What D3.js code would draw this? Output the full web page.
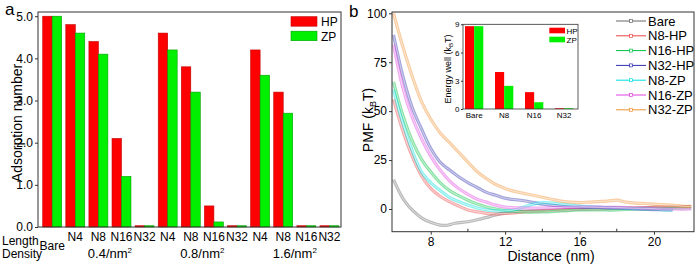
<!DOCTYPE html>
<html><head><meta charset="utf-8">
<script src="https://cdn.jsdelivr.net/npm/d3@7"></script>
<style>body{margin:0;background:#fff}svg{display:block;font-family:"Liberation Sans",Arial,sans-serif}</style>
</head><body><svg id="c" width="697" height="267"></svg>
<script>
// ---------- Panel a data ----------
const lengthLabels = ["Bare","N4","N8","N16","N32","N4","N8","N16","N32","N4","N8","N16","N32"];
const densityLabels = ["0.4/nm","0.8/nm","1.6/nm"];
const hpValues = [5.0,4.8,4.4,2.1,0.03,4.6,3.8,0.5,0.03,4.2,3.2,0.03,0.03];
const zpValues = [5.0,4.6,4.1,1.2,0.03,4.2,3.2,0.12,0.03,3.6,2.7,0.03,0.03];
const aTicks = [0,1,2,3,4,5];

// ---------- Panel b data ----------
const pmfSeries = ["Bare","N8-HP","N16-HP","N32-HP","N8-ZP","N16-ZP","N32-ZP"];
const pmfColors = ["#666666","#ee4444","#00c040","#3030b0","#00dede","#e040e0","#f09030"];
const bareD  = [6.0,6.3,6.6,7.0,7.5,8.0,8.5,8.9,9.3,10,10.5,11,11.5,12,12.5,13,14,15,16,17,18,19,20,21,22];
const bareV  = [15,9,4,-0.5,-4.5,-6.8,-8.2,-8.3,-7.3,-6.5,-5.5,-4.3,-3,-2,-1.5,-1.2,-0.8,-0.5,-0.2,0,0.2,0.5,0.8,1,1.2];
const n8hpD  = [6.0,6.5,7.0,7.5,8.0,8.5,9.0,9.5,10,10.5,11,11.5,12,12.5,13,14,15,16,17,18,19,20,21,22];
const n8hpV  = [56,40,27,17,10.5,6.5,3.8,1.5,-0.5,-1.5,-2.2,-2.5,-2.3,-2,-1.5,-1,-0.5,0,0,0.3,0.5,0.8,1,1.2];
const n16hpD = [6.0,6.5,7.0,7.5,8.0,8.5,9.0,9.5,10,10.5,11,11.5,12,13,14,15,16,17,18,19,20,21,22];
const n16hpV = [65,48,35,25.5,19,13.5,9.5,6.8,4.5,2.5,1,0,-0.8,-1.5,-1.5,-1,-0.5,-0.5,-0.5,0,0,0.3,0.5];
const n32hpD = [6.0,6.5,7.0,7.5,8.0,8.5,9.0,9.5,10,10.5,11,11.5,12,13,14,15,16,17,18,19,20,21];
const n32hpV = [89,68,52,41,31,24,20,16.5,13.5,11,8.5,7,5.5,4.2,2.5,1.5,1,0.8,0.5,0,-0.3,-0.5];
const n8zpD  = [6.0,6.5,7.0,7.5,8.0,8.5,9.0,9.5,10,10.5,11,11.5,12,12.5,13,13.5,14,14.5,15,16,17,18,19,20,20.5,21];
const n8zpV  = [61,44,30,19,13.5,9.5,6,3.8,2,0.5,-0.5,-1,-1,-0.5,1,2.5,3.3,3,2.5,1.5,0.8,0.5,0.2,0,-0.5,-0.5];
const n16zpD = [6.0,6.5,7.0,7.5,8.0,8.5,9.0,9.5,10,10.5,11,11.5,12,13,14,15,16,17,18,19,20,21,22];
const n16zpV = [84,62,47,36,27,20,14.5,10.5,7.5,5,3.5,2,1,0.5,0.5,0.8,1,1,0.8,0.5,0.2,0,0];
const n32zpD = [6.0,6.5,7.0,7.5,8.0,8.5,9.0,9.5,10,10.5,11,11.5,12,12.5,13,13.5,14,14.5,15,15.5,16,16.5,17,17.5,18,18.5,19,19.5,20,20.5,21,21.5,22];
const n32zpV = [100,83,68,55,46,39,34,29,24,19,15.5,12.5,10.5,9,8,7,6,5,4,3.5,3.3,3.5,3.8,4,4.5,3.5,3,2.8,2.5,2.2,2,1.5,1.3];
const pmfD = [bareD,n8hpD,n16hpD,n32hpD,n8zpD,n16zpD,n32zpD];
const pmfV = [bareV,n8hpV,n16hpV,n32hpV,n8zpV,n16zpV,n32zpV];
const bXTicks = [8,12,16,20];
const bXMinor = [10,14,18];
const bYTicks = [0,25,50,75,100];

// ---------- Inset data ----------
const insetCats = ["Bare","N8","N16","N32"];
const insetHP = [8.8,3.93,1.79,0.08];
const insetZP = [8.8,2.46,0.72,0.08];
const insetTicks = [0,3,6,9];

const svg = d3.select("#c");
const axisCol = "#333";
const RED="#ff0000", REDS="#c00000", GRN="#00f000", GRNS="#00a000";

// ================= Panel a =================
const ax0=38, ax1=341, ay0=227, ay1=12;
const xa = d3.scaleBand().domain(d3.range(lengthLabels.length)).range([40.4,341.2]).paddingInner(0.18).paddingOuter(0.1);
const ya = d3.scaleLinear().domain([0,5.1]).range([ay0,ay1]);
const bw = xa.bandwidth()/2;
const ga = svg.append("g");
ga.selectAll("rect.hp").data(hpValues).join("rect").attr("x",(d,i)=>xa(i)).attr("y",d=>ya(d)).attr("width",bw).attr("height",d=>ya(0)-ya(d)).attr("fill",RED).attr("stroke",REDS).attr("stroke-width",0.6);
ga.selectAll("rect.zp").data(zpValues).join("rect").attr("x",(d,i)=>xa(i)+bw).attr("y",d=>ya(d)).attr("width",bw).attr("height",d=>ya(0)-ya(d)).attr("fill",GRN).attr("stroke",GRNS).attr("stroke-width",0.6);
ga.append("rect").attr("x",ax0).attr("y",ay1).attr("width",ax1-ax0).attr("height",ay0-ay1).attr("fill","none").attr("stroke",axisCol).attr("stroke-width",1);
const yaAxis = ga.append("g").attr("transform",`translate(${ax0},0)`).call(d3.axisLeft(ya).tickValues(aTicks).tickSize(3).tickPadding(2));
yaAxis.select(".domain").remove();
yaAxis.selectAll("line").attr("stroke",axisCol);
yaAxis.selectAll("text").attr("font-size",12).attr("font-family","Liberation Sans, Arial").attr("fill","#000");
ga.append("text").attr("transform","translate(22,123) rotate(-90)").attr("text-anchor","middle").attr("font-size",14).text("Adsorption number");
// x labels
ga.selectAll("text.len").data(lengthLabels).join("text").attr("x",(d,i)=>xa(i)+xa.bandwidth()/2).attr("y",(d,i)=>i===0?250:241).attr("text-anchor","middle").attr("font-size",12).text(d=>d);
ga.append("text").attr("x",2).attr("y",245).attr("font-size",12).text("Length");
ga.append("text").attr("x",2).attr("y",258).attr("font-size",12).text("Density");
densityLabels.forEach((t,k)=>{
  const cx=(xa(2+4*k)+xa(3+4*k)+xa.bandwidth())/2;
  const tx=ga.append("text").attr("x",cx).attr("y",258).attr("text-anchor","middle").attr("font-size",13);
  tx.append("tspan").text(t);
  tx.append("tspan").attr("dy",-5).attr("font-size",8).text("2");
});
// legend
[["HP",RED,REDS],["ZP",GRN,GRNS]].forEach((l,k)=>{
  ga.append("rect").attr("x",291).attr("y",16.7+k*14.5).attr("width",26).attr("height",9.5).attr("fill",l[1]).attr("stroke",l[2]).attr("stroke-width",0.6);
  ga.append("text").attr("x",321).attr("y",26+k*14.5).attr("font-size",12).text(l[0]);
});
ga.append("text").attr("x",5).attr("y",15).attr("font-size",17).text("a");

// ================= Panel b =================
const bx0=392, bx1=694, by0=231.7, by1=12;
const xb = d3.scaleLinear().domain([5.92,22.15]).range([bx0,bx1]);
const yb = d3.scaleLinear().domain([-11.6,100.66]).range([by0,by1]);
const gb = svg.append("g");
svg.append("clipPath").attr("id","clipb").append("rect").attr("x",bx0).attr("y",by1).attr("width",bx1-bx0).attr("height",by0-by1);
const line = d3.line().x(d=>xb(d[0])).y(d=>yb(d[1])).curve(d3.curveCatmullRom);
const gc = gb.append("g").attr("clip-path","url(#clipb)");
pmfSeries.forEach((s,k)=>{
  const pts = pmfD[k].map((d,i)=>[d,pmfV[k][i]]);
  gc.append("path").attr("d",line(pts)).attr("fill","none").attr("stroke",pmfColors[k]).attr("stroke-opacity",0.45).attr("stroke-width",3.2);
  gc.append("path").attr("d",line(pts)).attr("fill","none").attr("stroke","#fff").attr("stroke-opacity",0.5).attr("stroke-width",1);
});
gb.append("rect").attr("x",bx0).attr("y",by1).attr("width",bx1-bx0).attr("height",by0-by1).attr("fill","none").attr("stroke",axisCol).attr("stroke-width",1);
const ybAxis = gb.append("g").attr("transform",`translate(${bx0},0)`).call(d3.axisLeft(yb).tickValues(bYTicks).tickSize(3).tickPadding(2));
ybAxis.select(".domain").remove();
ybAxis.selectAll("line").attr("stroke",axisCol);
ybAxis.selectAll("text").attr("font-size",12).attr("font-family","Liberation Sans, Arial").attr("fill","#000");
const xbAxis = gb.append("g").attr("transform",`translate(0,${by0})`).call(d3.axisBottom(xb).tickValues(bXTicks).tickFormat(d3.format("d")).tickSize(3).tickPadding(3));
xbAxis.select(".domain").remove();
xbAxis.selectAll("line").attr("stroke",axisCol);
xbAxis.selectAll("text").attr("font-size",12).attr("font-family","Liberation Sans, Arial").attr("fill","#000");
gb.selectAll("line.minor").data(bXMinor).join("line").attr("x1",d=>xb(d)).attr("x2",d=>xb(d)).attr("y1",by0).attr("y2",by0-3).attr("stroke",axisCol);
gb.append("text").attr("x",551).attr("y",261).attr("text-anchor","middle").attr("font-size",14).text("Distance (nm)");
const pl = gb.append("text").attr("transform","translate(373,120) rotate(-90)").attr("text-anchor","middle").attr("font-size",14);
pl.append("tspan").text("PMF (k");
pl.append("tspan").attr("dy",3).attr("font-size",9).text("B");
pl.append("tspan").attr("dy",-3).text("T)");
gb.append("text").attr("x",349).attr("y",17).attr("font-size",17).text("b");
// legend
pmfSeries.forEach((s,k)=>{
  const y=21+k*14.8;
  gb.append("line").attr("x1",616).attr("x2",646).attr("y1",y).attr("y2",y).attr("stroke",pmfColors[k]).attr("stroke-width",1);
  gb.append("rect").attr("x",629.5).attr("y",y-1.5).attr("width",3).attr("height",3).attr("fill","#fff").attr("stroke",pmfColors[k]).attr("stroke-width",0.7);
  gb.append("text").attr("x",648).attr("y",y+4.5).attr("font-size",13).text(s);
});

// ================= Inset =================
const ix0=463, ix1=578, iy0=109, iy1=24.3;
const xi = d3.scaleBand().domain(insetCats).range([465,573.3]).paddingInner(0.39).paddingOuter(0);
const yi = d3.scaleLinear().domain([0,9]).range([iy0,iy1]);
const ibw = xi.bandwidth()/2;
const gi = svg.append("g");
gi.selectAll("rect.ih").data(insetHP).join("rect").attr("x",(d,i)=>xi(insetCats[i])).attr("y",d=>yi(d)).attr("width",ibw).attr("height",d=>yi(0)-yi(d)).attr("fill",RED);
gi.selectAll("rect.iz").data(insetZP).join("rect").attr("x",(d,i)=>xi(insetCats[i])+ibw).attr("y",d=>yi(d)).attr("width",ibw).attr("height",d=>yi(0)-yi(d)).attr("fill",GRN);
gi.append("rect").attr("x",ix0).attr("y",iy1).attr("width",ix1-ix0).attr("height",iy0-iy1).attr("fill","none").attr("stroke",axisCol).attr("stroke-width",0.8);
const yiAxis = gi.append("g").attr("transform",`translate(${ix0},0)`).call(d3.axisLeft(yi).tickValues(insetTicks).tickSize(2).tickPadding(1.5));
yiAxis.select(".domain").remove();
yiAxis.selectAll("line").attr("stroke",axisCol);
yiAxis.selectAll("text").attr("font-size",8).attr("font-family","Liberation Sans, Arial").attr("fill","#000");
gi.selectAll("text.ic").data(insetCats).join("text").attr("x",d=>xi(d)+xi.bandwidth()/2).attr("y",117.5).attr("text-anchor","middle").attr("font-size",8).text(d=>d);
const il = gi.append("text").attr("transform","translate(451,69) rotate(-90)").attr("text-anchor","middle").attr("font-size",9);
il.append("tspan").text("Energy well (k");
il.append("tspan").attr("dy",2).attr("font-size",6).text("B");
il.append("tspan").attr("dy",-2).text("T)");
[["HP",RED],["ZP",GRN]].forEach((l,k)=>{
  gi.append("rect").attr("x",549.3).attr("y",27.7+k*9).attr("width",15.7).attr("height",5.6).attr("fill",l[1]);
  gi.append("text").attr("x",566.5).attr("y",33.5+k*9).attr("font-size",8).text(l[0]);
});
</script></body></html>
